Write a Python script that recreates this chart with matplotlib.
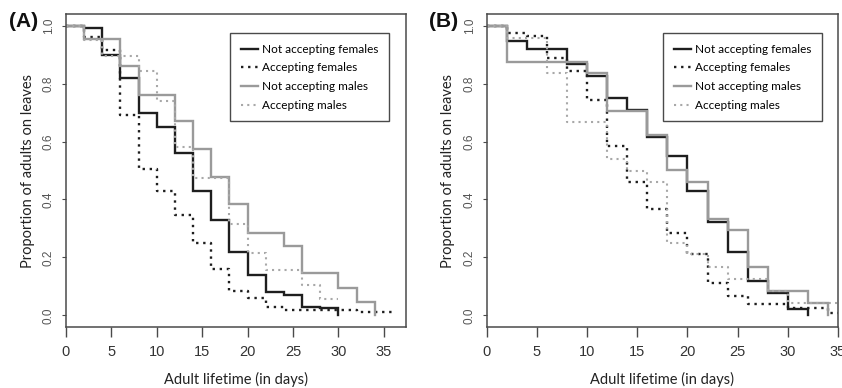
import matplotlib
matplotlib.use("Agg")
import matplotlib.pyplot as plt

# --- Data (survival curves) ---
# Panel A
a_nf_t = [0, 2, 4, 6, 8, 10, 12, 14, 16, 18, 20, 22, 24, 26, 28, 30]
a_nf_s = [1.0, 0.99, 0.90, 0.82, 0.70, 0.65, 0.56, 0.43, 0.33, 0.22, 0.14, 0.08, 0.07, 0.03, 0.025, 0.0]
a_af_t = [0, 2, 4, 6, 8, 10, 12, 14, 16, 18, 20, 22, 24, 32, 36]
a_af_s = [1.0, 0.96, 0.915, 0.69, 0.505, 0.43, 0.345, 0.25, 0.16, 0.085, 0.06, 0.03, 0.02, 0.011, 0.011]
a_nm_t = [0, 2, 6, 8, 12, 14, 16, 18, 20, 24, 26, 30, 32, 34]
a_nm_s = [1.0, 0.953, 0.86, 0.76, 0.67, 0.575, 0.477, 0.384, 0.285, 0.24, 0.146, 0.095, 0.047, 0.0]
a_am_t = [0, 2, 4, 8, 10, 12, 14, 18, 20, 22, 26, 28, 30]
a_am_s = [1.0, 0.95, 0.895, 0.842, 0.74, 0.58, 0.475, 0.316, 0.215, 0.158, 0.105, 0.055, 0.055]

# Panel B
b_nf_t = [0, 2, 4, 8, 10, 12, 14, 16, 18, 20, 22, 24, 26, 28, 30, 32]
b_nf_s = [1.0, 0.948, 0.92, 0.868, 0.826, 0.75, 0.71, 0.615, 0.55, 0.428, 0.324, 0.22, 0.118, 0.077, 0.023, 0.0]
b_af_t = [0, 2, 4, 6, 8, 10, 12, 14, 16, 18, 20, 22, 24, 26, 30, 34, 35]
b_af_s = [1.0, 0.975, 0.963, 0.889, 0.842, 0.744, 0.586, 0.462, 0.366, 0.283, 0.213, 0.111, 0.066, 0.038, 0.027, 0.008, 0.008]
b_nm_t = [0, 2, 10, 12, 16, 18, 20, 22, 24, 26, 28, 32, 34]
b_nm_s = [1.0, 0.875, 0.836, 0.707, 0.624, 0.502, 0.46, 0.331, 0.293, 0.167, 0.085, 0.043, 0.0]
b_am_t = [0, 2, 6, 8, 12, 14, 16, 18, 20, 22, 24, 28, 30, 35]
b_am_s = [1.0, 0.957, 0.835, 0.667, 0.54, 0.50, 0.46, 0.251, 0.213, 0.167, 0.126, 0.085, 0.043, 0.043]

labels = ["Not accepting females", "Accepting females", "Not accepting males", "Accepting males"]
x_ticks = [0, 5, 10, 15, 20, 25, 30, 35]
y_ticks = [0.0, 0.2, 0.4, 0.6, 0.8, 1.0]

# --- Styles ---
styles = [
    dict(color="#1e1e1e", lw=1.7, ls="-"),
    dict(color="#1e1e1e", lw=1.7, ls=(0, (1, 2))),
    dict(color="#9a9a9a", lw=1.7, ls="-"),
    dict(color="#a8a8a8", lw=1.5, ls=(0, (1, 2))),
]
LABEL_FONT = ["Lato", "DejaVu Sans"]
TICK_FONT = ["Liberation Sans Narrow", "Liberation Sans", "DejaVu Sans"]
FRAME = "#4a4a4a"

fig = plt.figure(figsize=(8.42, 3.88), dpi=100)
W, H = 842, 388


def px_axes(left, right, top, bottom):
    return fig.add_axes([left / W, 1 - bottom / H, (right - left) / W, (bottom - top) / H])


panels = [
    ("(A)", px_axes(66, 406, 14, 327), 37.44,
     [(a_nf_t, a_nf_s), (a_af_t, a_af_s), (a_nm_t, a_nm_s), (a_am_t, a_am_s)], 9, 0.95),
    ("(B)", px_axes(486.7, 838, 14, 327), 35.0,
     [(b_nf_t, b_nf_s), (b_af_t, b_af_s), (b_nm_t, b_nm_s), (b_am_t, b_am_s)], 429.5, 0.9545),
]

for tag, ax, xmax, curves, tag_x, leg_x in panels:
    handles = []
    for (t, s), st, lab in zip(curves, styles, labels):
        h, = ax.step(t, s, where="post", label=lab, solid_joinstyle="miter",
                     dash_capstyle="butt", **st)
        handles.append(h)

    ax.set_xlim(0, xmax)
    ax.set_ylim(-0.04, 1.04)
    for sp in ax.spines.values():
        sp.set_color(FRAME)
        sp.set_linewidth(1.1)

    ax.set_xticks(x_ticks)
    ax.set_xticklabels([str(v) for v in x_ticks], family=TICK_FONT, fontsize=10.5, color="#333333")
    ax.set_yticks(y_ticks)
    ax.set_yticklabels([f"{v:.1f}" for v in y_ticks], family=["Liberation Sans", "DejaVu Sans"],
                       fontsize=8.5, color="#555555", rotation=90, va="center")
    ax.tick_params(axis="x", length=7, width=1.0, color=FRAME, pad=6)
    ax.tick_params(axis="y", length=3, width=0.8, color=FRAME, pad=5)

    ax.set_xlabel("Adult lifetime (in days)", family=LABEL_FONT, fontsize=10.5,
                  color="#222222", labelpad=9)
    ax.set_ylabel("Proportion of adults on leaves", family=LABEL_FONT, fontsize=10.5,
                  color="#222222", labelpad=6)

    leg = ax.legend(handles=handles, loc="upper right", bbox_to_anchor=(leg_x, 0.939),
                    borderaxespad=0, fancybox=False, framealpha=1, edgecolor=FRAME,
                    prop={"family": LABEL_FONT, "size": 8.5}, handlelength=1.5,
                    handletextpad=0.3, labelspacing=0.65, borderpad=0.9)
    leg.get_frame().set_linewidth(1.0)

    fig.text(tag_x / W, 1 - 12 / H, tag, family=["Liberation Sans", "DejaVu Sans"],
             fontweight="bold", fontsize=15, va="top", ha="left", color="#111111")

fig.savefig("out.png", dpi=100)
